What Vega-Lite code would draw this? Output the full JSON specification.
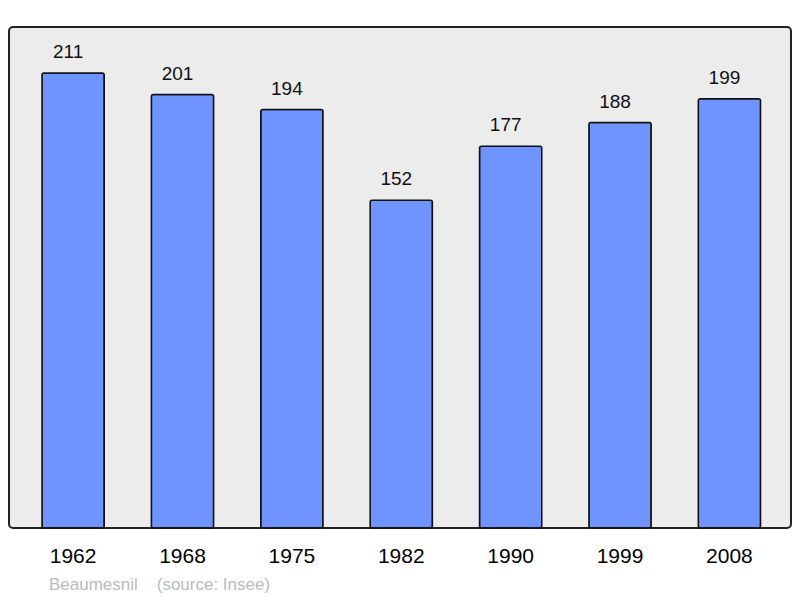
{
  "$schema": "https://vega.github.io/schema/vega-lite/v6.json",
  "width": 782,
  "height": 501,
  "autosize": {"type": "none"},
  "padding": {"left": 9, "top": 27, "right": 9, "bottom": 70},
  "background": "white",
  "view": {"fill": "#ececec", "stroke": "#222222", "strokeWidth": 2, "cornerRadius": 4},
  "config": {"font": "Liberation Sans"},
  "title": {
    "text": "Beaumesnil\u00a0\u00a0\u00a0\u00a0(source: Insee)",
    "orient": "bottom",
    "anchor": "start",
    "frame": "group",
    "dx": 40,
    "offset": 11,
    "color": "#bbbbbb",
    "fontSize": 17,
    "fontWeight": "normal",
    "font": "Liberation Sans"
  },
  "data": {
    "values": [
      {"year": "1962", "pop": 211},
      {"year": "1968", "pop": 201},
      {"year": "1975", "pop": 194},
      {"year": "1982", "pop": 152},
      {"year": "1990", "pop": 177},
      {"year": "1999", "pop": 188},
      {"year": "2008", "pop": 199}
    ]
  },
  "encoding": {
    "x": {
      "field": "year",
      "type": "nominal",
      "sort": null,
      "scale": {"paddingInner": 0.431, "paddingOuter": 0.29, "align": 0.52},
      "axis": {
        "title": null,
        "labelAngle": 0,
        "labelFontSize": 21,
        "labelColor": "#000000",
        "labelFont": "Liberation Sans",
        "labelPadding": 17,
        "ticks": false,
        "domain": false,
        "grid": false
      }
    },
    "y": {
      "field": "pop",
      "type": "quantitative",
      "scale": {"domain": [0, 232.3], "nice": false, "zero": true},
      "axis": null
    }
  },
  "layer": [
    {
      "mark": {"type": "bar", "fill": "#7094ff", "stroke": "#111111", "strokeWidth": 1.5, "cornerRadius": 2}
    },
    {
      "mark": {"type": "text", "baseline": "alphabetic", "dy": -15, "dx": -5, "fontSize": 19, "color": "#111111", "font": "Liberation Sans"},
      "encoding": {"text": {"field": "pop", "type": "quantitative"}}
    }
  ]
}
